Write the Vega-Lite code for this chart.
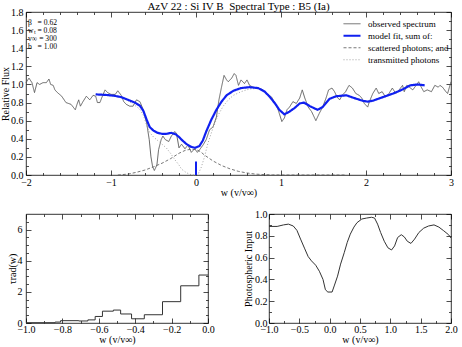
{
  "$schema": "https://vega.github.io/schema/vega-lite/v6.json",
  "padding": {"left": 0, "right": 2, "top": 0, "bottom": 0},
  "datasets": {
    "spec": [
      {"s":"obs","w":-2.0,"f":1.02},{"s":"obs","w":-1.965,"f":1.07},{"s":"obs","w":-1.93,"f":1.02},{"s":"obs","w":-1.9,"f":0.91},{"s":"obs","w":-1.87,"f":1.02},{"s":"obs","w":-1.84,"f":1.0},{"s":"obs","w":-1.8,"f":1.02},{"s":"obs","w":-1.76,"f":1.02},{"s":"obs","w":-1.73,"f":1.06},{"s":"obs","w":-1.71,"f":1.0},{"s":"obs","w":-1.68,"f":0.99},{"s":"obs","w":-1.66,"f":0.94},{"s":"obs","w":-1.63,"f":0.91},{"s":"obs","w":-1.58,"f":0.87},{"s":"obs","w":-1.53,"f":0.8},{"s":"obs","w":-1.47,"f":0.78},{"s":"obs","w":-1.42,"f":0.72},{"s":"obs","w":-1.4,"f":0.78},{"s":"obs","w":-1.38,"f":0.83},{"s":"obs","w":-1.36,"f":0.76},{"s":"obs","w":-1.33,"f":0.81},{"s":"obs","w":-1.29,"f":0.87},{"s":"obs","w":-1.25,"f":0.83},{"s":"obs","w":-1.21,"f":0.88},{"s":"obs","w":-1.18,"f":0.87},{"s":"obs","w":-1.16,"f":0.8},{"s":"obs","w":-1.13,"f":0.8},{"s":"obs","w":-1.11,"f":0.85},{"s":"obs","w":-1.07,"f":0.94},{"s":"obs","w":-1.04,"f":0.91},{"s":"obs","w":-1.0,"f":0.89},{"s":"obs","w":-0.95,"f":0.89},{"s":"obs","w":-0.92,"f":0.93},{"s":"obs","w":-0.88,"f":0.88},{"s":"obs","w":-0.85,"f":0.81},{"s":"obs","w":-0.82,"f":0.78},{"s":"obs","w":-0.78,"f":0.76},{"s":"obs","w":-0.74,"f":0.76},{"s":"obs","w":-0.7,"f":0.83},{"s":"obs","w":-0.66,"f":0.81},{"s":"obs","w":-0.62,"f":0.72},{"s":"obs","w":-0.58,"f":0.57},{"s":"obs","w":-0.55,"f":0.39},{"s":"obs","w":-0.53,"f":0.2},{"s":"obs","w":-0.51,"f":0.09},{"s":"obs","w":-0.49,"f":0.05},{"s":"obs","w":-0.46,"f":0.11},{"s":"obs","w":-0.44,"f":0.28},{"s":"obs","w":-0.41,"f":0.39},{"s":"obs","w":-0.39,"f":0.43},{"s":"obs","w":-0.36,"f":0.39},{"s":"obs","w":-0.32,"f":0.37},{"s":"obs","w":-0.29,"f":0.43},{"s":"obs","w":-0.25,"f":0.48},{"s":"obs","w":-0.23,"f":0.46},{"s":"obs","w":-0.2,"f":0.3},{"s":"obs","w":-0.17,"f":0.34},{"s":"obs","w":-0.13,"f":0.29},{"s":"obs","w":-0.094,"f":0.33},{"s":"obs","w":-0.055,"f":0.25},{"s":"obs","w":-0.016,"f":0.29},{"s":"obs","w":0.016,"f":0.25},{"s":"obs","w":0.043,"f":0.28},{"s":"obs","w":0.082,"f":0.33},{"s":"obs","w":0.12,"f":0.39},{"s":"obs","w":0.16,"f":0.5},{"s":"obs","w":0.2,"f":0.53},{"s":"obs","w":0.24,"f":0.64},{"s":"obs","w":0.27,"f":0.83},{"s":"obs","w":0.3,"f":0.97},{"s":"obs","w":0.33,"f":1.1},{"s":"obs","w":0.36,"f":1.05},{"s":"obs","w":0.38,"f":1.03},{"s":"obs","w":0.42,"f":1.07},{"s":"obs","w":0.45,"f":1.12},{"s":"obs","w":0.47,"f":1.1},{"s":"obs","w":0.5,"f":0.99},{"s":"obs","w":0.53,"f":1.05},{"s":"obs","w":0.57,"f":1.01},{"s":"obs","w":0.6,"f":1.05},{"s":"obs","w":0.63,"f":0.99},{"s":"obs","w":0.67,"f":0.97},{"s":"obs","w":0.73,"f":0.96},{"s":"obs","w":0.79,"f":0.94},{"s":"obs","w":0.83,"f":0.9},{"s":"obs","w":0.89,"f":0.86},{"s":"obs","w":0.93,"f":0.79},{"s":"obs","w":0.96,"f":0.74},{"s":"obs","w":0.98,"f":0.68},{"s":"obs","w":1.01,"f":0.59},{"s":"obs","w":1.04,"f":0.63},{"s":"obs","w":1.07,"f":0.72},{"s":"obs","w":1.1,"f":0.75},{"s":"obs","w":1.14,"f":0.81},{"s":"obs","w":1.18,"f":0.79},{"s":"obs","w":1.22,"f":0.85},{"s":"obs","w":1.25,"f":0.94},{"s":"obs","w":1.28,"f":0.85},{"s":"obs","w":1.32,"f":0.75},{"s":"obs","w":1.36,"f":0.7},{"s":"obs","w":1.41,"f":0.6},{"s":"obs","w":1.45,"f":0.68},{"s":"obs","w":1.49,"f":0.75},{"s":"obs","w":1.53,"f":0.85},{"s":"obs","w":1.56,"f":0.94},{"s":"obs","w":1.6,"f":0.96},{"s":"obs","w":1.63,"f":0.92},{"s":"obs","w":1.66,"f":0.86},{"s":"obs","w":1.69,"f":0.83},{"s":"obs","w":1.72,"f":0.88},{"s":"obs","w":1.76,"f":0.92},{"s":"obs","w":1.8,"f":0.99},{"s":"obs","w":1.84,"f":0.96},{"s":"obs","w":1.88,"f":0.9},{"s":"obs","w":1.92,"f":0.88},{"s":"obs","w":1.95,"f":0.85},{"s":"obs","w":1.98,"f":0.79},{"s":"obs","w":2.02,"f":0.75},{"s":"obs","w":2.04,"f":0.81},{"s":"obs","w":2.08,"f":0.9},{"s":"obs","w":2.12,"f":0.96},{"s":"obs","w":2.15,"f":0.9},{"s":"obs","w":2.19,"f":0.92},{"s":"obs","w":2.23,"f":0.86},{"s":"obs","w":2.27,"f":0.9},{"s":"obs","w":2.31,"f":0.96},{"s":"obs","w":2.35,"f":0.9},{"s":"obs","w":2.39,"f":0.94},{"s":"obs","w":2.43,"f":0.99},{"s":"obs","w":2.45,"f":0.92},{"s":"obs","w":2.48,"f":0.99},{"s":"obs","w":2.51,"f":0.97},{"s":"obs","w":2.55,"f":0.94},{"s":"obs","w":2.59,"f":0.99},{"s":"obs","w":2.62,"f":1.03},{"s":"obs","w":2.65,"f":0.97},{"s":"obs","w":2.68,"f":0.92},{"s":"obs","w":2.72,"f":0.94},{"s":"obs","w":2.77,"f":0.92},{"s":"obs","w":2.81,"f":0.99},{"s":"obs","w":2.85,"f":0.97},{"s":"obs","w":2.87,"f":0.99},{"s":"obs","w":2.9,"f":0.97},{"s":"obs","w":2.94,"f":0.92},{"s":"obs","w":2.96,"f":0.9},{"s":"obs","w":3.0,"f":1.03},
      {"s":"model","w":-1.18,"f":0.89},{"s":"model","w":-1.07,"f":0.885},{"s":"model","w":-0.96,"f":0.875},{"s":"model","w":-0.88,"f":0.86},{"s":"model","w":-0.8,"f":0.83},{"s":"model","w":-0.72,"f":0.8},{"s":"model","w":-0.66,"f":0.765},{"s":"model","w":-0.62,"f":0.71},{"s":"model","w":-0.58,"f":0.61},{"s":"model","w":-0.545,"f":0.53},{"s":"model","w":-0.5,"f":0.49},{"s":"model","w":-0.45,"f":0.465},{"s":"model","w":-0.4,"f":0.455},{"s":"model","w":-0.35,"f":0.455},{"s":"model","w":-0.29,"f":0.465},{"s":"model","w":-0.24,"f":0.45},{"s":"model","w":-0.2,"f":0.42},{"s":"model","w":-0.17,"f":0.39},{"s":"model","w":-0.11,"f":0.34},{"s":"model","w":-0.055,"f":0.31},{"s":"model","w":-0.01,"f":0.3},{"s":"model","w":0.04,"f":0.32},{"s":"model","w":0.08,"f":0.38},{"s":"model","w":0.12,"f":0.48},{"s":"model","w":0.18,"f":0.61},{"s":"model","w":0.24,"f":0.72},{"s":"model","w":0.3,"f":0.81},{"s":"model","w":0.36,"f":0.88},{"s":"model","w":0.44,"f":0.93},{"s":"model","w":0.53,"f":0.96},{"s":"model","w":0.63,"f":0.97},{"s":"model","w":0.73,"f":0.96},{"s":"model","w":0.81,"f":0.92},{"s":"model","w":0.87,"f":0.86},{"s":"model","w":0.93,"f":0.79},{"s":"model","w":0.98,"f":0.72},{"s":"model","w":1.04,"f":0.67},{"s":"model","w":1.1,"f":0.7},{"s":"model","w":1.16,"f":0.74},{"s":"model","w":1.22,"f":0.79},{"s":"model","w":1.27,"f":0.8},{"s":"model","w":1.34,"f":0.76},{"s":"model","w":1.43,"f":0.72},{"s":"model","w":1.49,"f":0.75},{"s":"model","w":1.57,"f":0.84},{"s":"model","w":1.65,"f":0.87},{"s":"model","w":1.77,"f":0.88},{"s":"model","w":1.86,"f":0.85},{"s":"model","w":1.96,"f":0.82},{"s":"model","w":2.02,"f":0.81},{"s":"model","w":2.08,"f":0.82},{"s":"model","w":2.2,"f":0.86},{"s":"model","w":2.32,"f":0.9},{"s":"model","w":2.42,"f":0.94},{"s":"model","w":2.52,"f":0.99},{"s":"model","w":2.61,"f":1.0},{"s":"model","w":2.69,"f":0.99},
      {"s":"scat","w":-0.92,"f":0},{"s":"scat","w":-0.8,"f":0.01},{"s":"scat","w":-0.7,"f":0.03},{"s":"scat","w":-0.6,"f":0.055},{"s":"scat","w":-0.5,"f":0.09},{"s":"scat","w":-0.4,"f":0.13},{"s":"scat","w":-0.3,"f":0.18},{"s":"scat","w":-0.2,"f":0.24},{"s":"scat","w":-0.12,"f":0.275},{"s":"scat","w":-0.05,"f":0.285},{"s":"scat","w":0.0,"f":0.28},{"s":"scat","w":0.05,"f":0.26},{"s":"scat","w":0.1,"f":0.22},{"s":"scat","w":0.2,"f":0.155},{"s":"scat","w":0.3,"f":0.105},{"s":"scat","w":0.4,"f":0.068},{"s":"scat","w":0.5,"f":0.04},{"s":"scat","w":0.6,"f":0.022},{"s":"scat","w":0.7,"f":0.01},{"s":"scat","w":0.8,"f":0.004},{"s":"scat","w":0.9,"f":0.001},{"s":"scat","w":1.0,"f":0},{"s":"scat","w":1.75,"f":0},
      {"s":"trans","w":-1.18,"f":0.89},{"s":"trans","w":-1.07,"f":0.885},{"s":"trans","w":-0.96,"f":0.87},{"s":"trans","w":-0.88,"f":0.855},{"s":"trans","w":-0.8,"f":0.82},{"s":"trans","w":-0.72,"f":0.77},{"s":"trans","w":-0.66,"f":0.725},{"s":"trans","w":-0.62,"f":0.66},{"s":"trans","w":-0.58,"f":0.55},{"s":"trans","w":-0.545,"f":0.47},{"s":"trans","w":-0.5,"f":0.42},{"s":"trans","w":-0.45,"f":0.38},{"s":"trans","w":-0.4,"f":0.34},{"s":"trans","w":-0.35,"f":0.3},{"s":"trans","w":-0.3,"f":0.24},{"s":"trans","w":-0.25,"f":0.17},{"s":"trans","w":-0.2,"f":0.11},{"s":"trans","w":-0.17,"f":0.065},{"s":"trans","w":-0.12,"f":0.03},{"s":"trans","w":-0.08,"f":0.01},{"s":"trans","w":-0.04,"f":0.0},{"s":"trans","w":0.0,"f":0.0},{"s":"trans","w":0.03,"f":0.02},{"s":"trans","w":0.06,"f":0.08},{"s":"trans","w":0.1,"f":0.2},{"s":"trans","w":0.14,"f":0.35},{"s":"trans","w":0.2,"f":0.52},{"s":"trans","w":0.26,"f":0.66},{"s":"trans","w":0.32,"f":0.76},{"s":"trans","w":0.38,"f":0.83},{"s":"trans","w":0.44,"f":0.88},{"s":"trans","w":0.53,"f":0.92},{"s":"trans","w":0.63,"f":0.95},{"s":"trans","w":0.73,"f":0.955},{"s":"trans","w":0.81,"f":0.92},{"s":"trans","w":0.87,"f":0.86},{"s":"trans","w":0.93,"f":0.79},{"s":"trans","w":0.98,"f":0.72},{"s":"trans","w":1.04,"f":0.67},{"s":"trans","w":1.1,"f":0.7},{"s":"trans","w":1.16,"f":0.74},{"s":"trans","w":1.22,"f":0.79},{"s":"trans","w":1.27,"f":0.8},{"s":"trans","w":1.34,"f":0.76},{"s":"trans","w":1.43,"f":0.72},{"s":"trans","w":1.49,"f":0.75},{"s":"trans","w":1.57,"f":0.84},{"s":"trans","w":1.65,"f":0.87},{"s":"trans","w":1.77,"f":0.88},{"s":"trans","w":1.86,"f":0.85},{"s":"trans","w":1.96,"f":0.82},{"s":"trans","w":2.02,"f":0.81},{"s":"trans","w":2.08,"f":0.82},{"s":"trans","w":2.2,"f":0.86},{"s":"trans","w":2.32,"f":0.9},{"s":"trans","w":2.42,"f":0.94},{"s":"trans","w":2.52,"f":0.99},{"s":"trans","w":2.61,"f":1.0},{"s":"trans","w":2.69,"f":0.99}
    ],
    "marker": [{"w": 0, "lo": 0, "hi": 0.15}],
    "params": [
      {"k": 1, "label": "β\u00a0\u00a0 = 0.62"},
      {"k": 2, "label": "w\u209c = 0.08"},
      {"k": 3, "label": "v\u221e = 300"},
      {"k": 4, "label": "b\u00a0\u00a0 = 1.00"}
    ],
    "tau": [
      {"w":-1.0,"t":0.02},{"w":-0.84,"t":0.06},{"w":-0.81,"t":0.15},{"w":-0.71,"t":0.13},{"w":-0.66,"t":0.2},{"w":-0.62,"t":0.42},{"w":-0.58,"t":0.76},{"w":-0.52,"t":0.83},{"w":-0.48,"t":0.58},{"w":-0.42,"t":0.27},{"w":-0.35,"t":0.53},{"w":-0.25,"t":1.37},{"w":-0.15,"t":2.39},{"w":-0.05,"t":3.08},{"w":0.0,"t":3.08}
    ],
    "phot": [
      {"w":-1.0,"f":0.886},{"w":-0.866,"f":0.886},{"w":-0.76,"f":0.9},{"w":-0.68,"f":0.907},{"w":-0.6,"f":0.89},{"w":-0.54,"f":0.85},{"w":-0.48,"f":0.77},{"w":-0.41,"f":0.68},{"w":-0.355,"f":0.61},{"w":-0.3,"f":0.57},{"w":-0.23,"f":0.53},{"w":-0.17,"f":0.475},{"w":-0.11,"f":0.4},{"w":-0.07,"f":0.305},{"w":-0.03,"f":0.284},{"w":0.04,"f":0.284},{"w":0.075,"f":0.34},{"w":0.13,"f":0.43},{"w":0.18,"f":0.54},{"w":0.24,"f":0.645},{"w":0.29,"f":0.74},{"w":0.34,"f":0.815},{"w":0.4,"f":0.88},{"w":0.45,"f":0.92},{"w":0.53,"f":0.954},{"w":0.61,"f":0.963},{"w":0.69,"f":0.97},{"w":0.74,"f":0.963},{"w":0.79,"f":0.907},{"w":0.84,"f":0.83},{"w":0.9,"f":0.75},{"w":0.96,"f":0.69},{"w":1.02,"f":0.67},{"w":1.07,"f":0.707},{"w":1.12,"f":0.784},{"w":1.18,"f":0.81},{"w":1.23,"f":0.79},{"w":1.28,"f":0.75},{"w":1.34,"f":0.73},{"w":1.4,"f":0.77},{"w":1.47,"f":0.83},{"w":1.55,"f":0.87},{"w":1.63,"f":0.89},{"w":1.72,"f":0.9},{"w":1.8,"f":0.88},{"w":1.88,"f":0.846},{"w":1.96,"f":0.81},{"w":2.0,"f":0.78}
    ]
  },
  "spacing": 10,
  "vconcat": [
    {
      "width": 425,
      "height": 163,
      "title": {"text": "AzV 22 : Si IV B\u00a0 Spectral Type : B5 (Ia)", "fontSize": 11, "offset": -5},
      "data": {"name": "spec"},
      "resolve": {"axis": {"x": "independent", "y": "independent"}},
      "layer": [
        {
          "transform": [{"filter": "datum.s === 'obs'"}],
          "mark": {"type": "line"},
          "encoding": {
            "x": {"field": "w", "type": "quantitative", "scale": {"domain": [-2, 3], "nice": false, "zero": false},
                  "axis": {"orient": "bottom", "values": [-2, -1, 0, 1, 2, 3], "format": "d", "title": "w (v/v∞)", "tickSize": -5, "labelPadding": 7, "titlePadding": 0}},
            "y": {"field": "f", "type": "quantitative", "scale": {"domain": [0, 1.8], "nice": false, "zero": false},
                  "axis": {"orient": "left", "values": [0, 0.2, 0.4, 0.6, 0.8, 1, 1.2, 1.4, 1.6, 1.8], "format": ".1f", "title": "Relative Flux", "tickSize": -5, "labelPadding": 8, "titlePadding": 0}},
            "color": {"field": "s", "type": "nominal", "scale": {"domain": ["obs", "model", "scat", "trans"], "range": ["#555555", "#1020f0", "#555555", "#8a8a8a"]},
                      "legend": {"orient": "none", "legendX": 316, "legendY": 6, "title": null, "symbolType": "stroke", "symbolSize": 289, "labelFontSize": 9, "labelFont": "Liberation Serif", "labelColor": "#000", "labelOffset": 6, "clipHeight": 11.5, "rowPadding": 0, "padding": 0,
                                 "labelExpr": "datum.label === 'obs' ? 'observed spectrum' : datum.label === 'model' ? 'model fit, sum of:' : datum.label === 'scat' ? '\u00a0scattered photons; and' : '\u00a0transmitted photons'"}},
            "strokeDash": {"field": "s", "type": "nominal", "scale": {"domain": ["obs", "model", "scat", "trans"], "range": [[1, 0], [1, 0], [3, 2], [1, 2]]}},
            "strokeWidth": {"field": "s", "type": "nominal", "scale": {"type": "ordinal", "domain": ["obs", "model", "scat", "trans"], "range": [0.9, 2.2, 0.8, 0.8]}}
          }
        },
        {
          "transform": [{"filter": "datum.s === 'scat'"}],
          "mark": {"type": "line"},
          "encoding": {
            "x": {"field": "w", "type": "quantitative", "scale": {"domain": [-2, 3], "nice": false, "zero": false},
                  "axis": {"orient": "top", "values": [-2, -1, 0, 1, 2, 3], "labels": false, "title": null, "tickSize": -5}},
            "y": {"field": "f", "type": "quantitative", "scale": {"domain": [0, 1.8], "nice": false, "zero": false},
                  "axis": {"orient": "right", "values": [0, 0.2, 0.4, 0.6, 0.8, 1, 1.2, 1.4, 1.6, 1.8], "labels": false, "title": null, "tickSize": -5}},
            "color": {"field": "s", "type": "nominal", "scale": {"domain": ["obs", "model", "scat", "trans"], "range": ["#555555", "#1020f0", "#555555", "#8a8a8a"]}},
            "strokeDash": {"field": "s", "type": "nominal", "scale": {"domain": ["obs", "model", "scat", "trans"], "range": [[1, 0], [1, 0], [3, 2], [1, 2]]}},
            "strokeWidth": {"field": "s", "type": "nominal", "scale": {"type": "ordinal", "domain": ["obs", "model", "scat", "trans"], "range": [0.9, 2.2, 0.8, 0.8]}}
          }
        },
        {
          "transform": [{"filter": "datum.s === 'trans'"}],
          "mark": {"type": "line"},
          "encoding": {
            "x": {"field": "w", "type": "quantitative", "scale": {"domain": [-2, 3], "nice": false, "zero": false},
                  "axis": {"orient": "bottom", "values": [-1.8, -1.6, -1.4, -1.2, -0.8, -0.6, -0.4, -0.2, 0.2, 0.4, 0.6, 0.8, 1.2, 1.4, 1.6, 1.8, 2.2, 2.4, 2.6, 2.8], "labels": false, "title": null, "tickSize": -2.5}},
            "y": {"field": "f", "type": "quantitative", "scale": {"domain": [0, 1.8], "nice": false, "zero": false},
                  "axis": {"orient": "left", "values": [0.1, 0.3, 0.5, 0.7, 0.9, 1.1, 1.3, 1.5, 1.7], "labels": false, "title": null, "tickSize": -2.5}},
            "color": {"field": "s", "type": "nominal", "scale": {"domain": ["obs", "model", "scat", "trans"], "range": ["#555555", "#1020f0", "#555555", "#8a8a8a"]}},
            "strokeDash": {"field": "s", "type": "nominal", "scale": {"domain": ["obs", "model", "scat", "trans"], "range": [[1, 0], [1, 0], [3, 2], [1, 2]]}},
            "strokeWidth": {"field": "s", "type": "nominal", "scale": {"type": "ordinal", "domain": ["obs", "model", "scat", "trans"], "range": [0.9, 2.2, 0.8, 0.8]}}
          }
        },
        {
          "transform": [{"filter": "datum.s === 'model'"}],
          "mark": {"type": "line"},
          "encoding": {
            "x": {"field": "w", "type": "quantitative", "scale": {"domain": [-2, 3], "nice": false, "zero": false},
                  "axis": {"orient": "top", "values": [-1.8, -1.6, -1.4, -1.2, -0.8, -0.6, -0.4, -0.2, 0.2, 0.4, 0.6, 0.8, 1.2, 1.4, 1.6, 1.8, 2.2, 2.4, 2.6, 2.8], "labels": false, "title": null, "tickSize": -2.5}},
            "y": {"field": "f", "type": "quantitative", "scale": {"domain": [0, 1.8], "nice": false, "zero": false},
                  "axis": {"orient": "right", "values": [0.1, 0.3, 0.5, 0.7, 0.9, 1.1, 1.3, 1.5, 1.7], "labels": false, "title": null, "tickSize": -2.5}},
            "color": {"field": "s", "type": "nominal", "scale": {"domain": ["obs", "model", "scat", "trans"], "range": ["#555555", "#1020f0", "#555555", "#8a8a8a"]}},
            "strokeDash": {"field": "s", "type": "nominal", "scale": {"domain": ["obs", "model", "scat", "trans"], "range": [[1, 0], [1, 0], [3, 2], [1, 2]]}},
            "strokeWidth": {"field": "s", "type": "nominal", "scale": {"type": "ordinal", "domain": ["obs", "model", "scat", "trans"], "range": [0.9, 2.2, 0.8, 0.8]}}
          }
        },
        {
          "data": {"name": "marker"},
          "mark": {"type": "rule", "color": "#1020f0", "strokeWidth": 2},
          "encoding": {
            "x": {"field": "w", "type": "quantitative", "axis": null},
            "y": {"field": "lo", "type": "quantitative", "axis": null},
            "y2": {"field": "hi"}
          }
        },
        {
          "data": {"name": "params"},
          "transform": [{"filter": "datum.k === 1"}],
          "mark": {"type": "text", "align": "left", "baseline": "middle", "fontSize": 7.6, "font": "Liberation Serif", "color": "#000000"},
          "encoding": {"x": {"datum": -1.976, "type": "quantitative", "axis": null}, "y": {"datum": 1.678, "type": "quantitative", "axis": null}, "text": {"field": "label"}}
        },
        {
          "data": {"name": "params"},
          "transform": [{"filter": "datum.k === 2"}],
          "mark": {"type": "text", "align": "left", "baseline": "middle", "fontSize": 7.6, "font": "Liberation Serif", "color": "#000000"},
          "encoding": {"x": {"datum": -1.976, "type": "quantitative", "axis": null}, "y": {"datum": 1.59, "type": "quantitative", "axis": null}, "text": {"field": "label"}}
        },
        {
          "data": {"name": "params"},
          "transform": [{"filter": "datum.k === 3"}],
          "mark": {"type": "text", "align": "left", "baseline": "middle", "fontSize": 7.6, "font": "Liberation Serif", "color": "#000000"},
          "encoding": {"x": {"datum": -1.976, "type": "quantitative", "axis": null}, "y": {"datum": 1.502, "type": "quantitative", "axis": null}, "text": {"field": "label"}}
        },
        {
          "data": {"name": "params"},
          "transform": [{"filter": "datum.k === 4"}],
          "mark": {"type": "text", "align": "left", "baseline": "middle", "fontSize": 7.6, "font": "Liberation Serif", "color": "#000000"},
          "encoding": {"x": {"datum": -1.976, "type": "quantitative", "axis": null}, "y": {"datum": 1.413, "type": "quantitative", "axis": null}, "text": {"field": "label"}}
        }
      ]
    },
    {
      "spacing": 28,
      "hconcat": [
        {
          "width": 182,
          "height": 109,
          "data": {"name": "tau"},
          "resolve": {"axis": {"x": "independent", "y": "independent"}},
          "layer": [
            {
              "mark": {"type": "line", "interpolate": "step-after", "color": "#333333", "strokeWidth": 1},
              "encoding": {
                "x": {"field": "w", "type": "quantitative", "scale": {"domain": [-1, 0], "nice": false, "zero": false},
                      "axis": {"orient": "bottom", "values": [-1, -0.8, -0.6, -0.4, -0.2, 0], "format": ".1f", "title": "w (v/v∞)", "tickSize": -5, "labelPadding": 6, "titlePadding": 0}},
                "y": {"field": "t", "type": "quantitative", "scale": {"domain": [0, 7], "nice": false, "zero": false},
                      "axis": {"orient": "left", "values": [0, 2, 4, 6], "format": "d", "title": "τrad(w)", "tickSize": -5, "labelPadding": 9, "titlePadding": 0}}
              }
            },
            {
              "mark": {"type": "line", "interpolate": "step-after", "strokeOpacity": 0},
              "encoding": {
                "x": {"field": "w", "type": "quantitative", "scale": {"domain": [-1, 0], "nice": false, "zero": false},
                      "axis": {"orient": "top", "values": [-1, -0.8, -0.6, -0.4, -0.2, 0], "labels": false, "title": null, "tickSize": -5}},
                "y": {"field": "t", "type": "quantitative", "scale": {"domain": [0, 7], "nice": false, "zero": false},
                      "axis": {"orient": "right", "values": [0, 2, 4, 6], "labels": false, "title": null, "tickSize": -5}}
              }
            },
            {
              "mark": {"type": "line", "interpolate": "step-after", "strokeOpacity": 0},
              "encoding": {
                "x": {"field": "w", "type": "quantitative", "scale": {"domain": [-1, 0], "nice": false, "zero": false},
                      "axis": {"orient": "bottom", "values": [-0.9, -0.7, -0.5, -0.3, -0.1], "labels": false, "title": null, "tickSize": -2.5}},
                "y": {"field": "t", "type": "quantitative", "scale": {"domain": [0, 7], "nice": false, "zero": false},
                      "axis": {"orient": "left", "values": [0.5, 1, 1.5, 2.5, 3, 3.5, 4.5, 5, 5.5, 6.5], "labels": false, "title": null, "tickSize": -2.5}}
              }
            },
            {
              "mark": {"type": "line", "interpolate": "step-after", "strokeOpacity": 0},
              "encoding": {
                "x": {"field": "w", "type": "quantitative", "scale": {"domain": [-1, 0], "nice": false, "zero": false},
                      "axis": {"orient": "top", "values": [-0.9, -0.7, -0.5, -0.3, -0.1], "labels": false, "title": null, "tickSize": -2.5}},
                "y": {"field": "t", "type": "quantitative", "scale": {"domain": [0, 7], "nice": false, "zero": false},
                      "axis": {"orient": "right", "values": [0.5, 1, 1.5, 2.5, 3, 3.5, 4.5, 5, 5.5, 6.5], "labels": false, "title": null, "tickSize": -2.5}}
              }
            }
          ]
        },
        {
          "width": 182,
          "height": 109,
          "data": {"name": "phot"},
          "resolve": {"axis": {"x": "independent", "y": "independent"}},
          "layer": [
            {
              "mark": {"type": "line", "color": "#333333", "strokeWidth": 1},
              "encoding": {
                "x": {"field": "w", "type": "quantitative", "scale": {"domain": [-1, 2], "nice": false, "zero": false},
                      "axis": {"orient": "bottom", "values": [-1, -0.5, 0, 0.5, 1, 1.5, 2], "format": ".1f", "title": "w (v/v∞)", "tickSize": -5, "labelPadding": 6, "titlePadding": 0}},
                "y": {"field": "f", "type": "quantitative", "scale": {"domain": [0, 1], "nice": false, "zero": false},
                      "axis": {"orient": "left", "values": [0, 0.2, 0.4, 0.6, 0.8, 1], "format": ".1f", "title": "Photospheric Input", "tickSize": -5, "labelPadding": 7, "titlePadding": 1}}
              }
            },
            {
              "mark": {"type": "line", "strokeOpacity": 0},
              "encoding": {
                "x": {"field": "w", "type": "quantitative", "scale": {"domain": [-1, 2], "nice": false, "zero": false},
                      "axis": {"orient": "top", "values": [-1, -0.5, 0, 0.5, 1, 1.5, 2], "labels": false, "title": null, "tickSize": -5}},
                "y": {"field": "f", "type": "quantitative", "scale": {"domain": [0, 1], "nice": false, "zero": false},
                      "axis": {"orient": "right", "values": [0, 0.2, 0.4, 0.6, 0.8, 1], "labels": false, "title": null, "tickSize": -5}}
              }
            },
            {
              "mark": {"type": "line", "strokeOpacity": 0},
              "encoding": {
                "x": {"field": "w", "type": "quantitative", "scale": {"domain": [-1, 2], "nice": false, "zero": false},
                      "axis": {"orient": "bottom", "values": [-0.75, -0.25, 0.25, 0.75, 1.25, 1.75], "labels": false, "title": null, "tickSize": -2.5}},
                "y": {"field": "f", "type": "quantitative", "scale": {"domain": [0, 1], "nice": false, "zero": false},
                      "axis": {"orient": "left", "values": [0.1, 0.3, 0.5, 0.7, 0.9], "labels": false, "title": null, "tickSize": -2.5}}
              }
            },
            {
              "mark": {"type": "line", "strokeOpacity": 0},
              "encoding": {
                "x": {"field": "w", "type": "quantitative", "scale": {"domain": [-1, 2], "nice": false, "zero": false},
                      "axis": {"orient": "top", "values": [-0.75, -0.25, 0.25, 0.75, 1.25, 1.75], "labels": false, "title": null, "tickSize": -2.5}},
                "y": {"field": "f", "type": "quantitative", "scale": {"domain": [0, 1], "nice": false, "zero": false},
                      "axis": {"orient": "right", "values": [0.1, 0.3, 0.5, 0.7, 0.9], "labels": false, "title": null, "tickSize": -2.5}}
              }
            }
          ]
        }
      ]
    }
  ],
  "config": {
    "font": "Liberation Serif",
    "view": {"stroke": "#000000", "strokeWidth": 0.8},
    "axis": {"domain": false, "grid": false, "labelFont": "Liberation Serif", "titleFont": "Liberation Serif", "labelFontSize": 10, "titleFontSize": 10, "titleFontWeight": "normal", "labelColor": "#000000", "titleColor": "#000000", "tickColor": "#000000", "tickWidth": 0.7, "labelFlush": false, "labelOverlap": false, "labelBound": false},
    "title": {"font": "Liberation Serif", "fontWeight": "normal", "color": "#000000"}
  }
}
